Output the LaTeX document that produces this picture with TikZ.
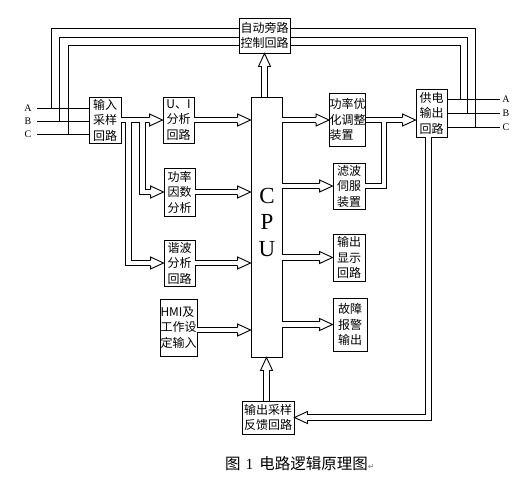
\documentclass[tikz,border=0pt]{standalone}
\usepackage{fontspec}
\setmainfont{Noto Sans CJK SC}
\newfontfamily\serifL{Liberation Serif}
\newfontfamily\symf{DejaVu Sans}
\usetikzlibrary{calc}
\tikzset{
  wire/.style={line width=0.9pt},
  box/.style={draw, line width=0.9pt, inner sep=0pt, align=center,
    font=\fontsize{12}{15.5}\selectfont},
  dblb/.style={draw, line width=0.9pt, double, double distance=4.6pt, line join=miter},
  dbl/.style={dblb, shorten >=13pt},
  ahead/.pic={
    \fill[white] (-13,-6) -- (0,0) -- (-13,6) -- cycle;
    \draw[line width=0.9pt, line join=miter] (-13,-2.75) -- (-13,-6) -- (0,0) -- (-13,6) -- (-13,2.75);
  },
  abc/.style={font=\serifL\fontsize{10}{10}\selectfont, inner sep=0pt}
}
\begin{document}
\begin{tikzpicture}[x=1pt,y=-1pt]
\useasboundingbox (0,0) rectangle (514,482);

% boxes
\node[box, minimum width=51pt, minimum height=35pt] (bp) at (264.5,35.5) {自动旁路\\控制回路};
\node[box, minimum width=32pt, minimum height=46pt] (in) at (105,120) {输入\\采样\\回路};
\node[box, minimum width=31pt, minimum height=46pt] (ui) at (178.5,120) {U、I\\分析\\回路};
\node[box, minimum width=31pt, minimum height=260pt] (cpu) at (266.5,227) {};
\node[font=\serifL\fontsize{23}{26.5}\selectfont, align=center, inner sep=0pt] (cputxt) at (267,222) {C\\P\\U};
\node[box, minimum width=31pt, minimum height=48pt] (pf) at (179.5,192) {功率\\因数\\分析};
\node[box, minimum width=31pt, minimum height=46pt] (hr) at (179.5,263) {谐波\\分析\\回路};
\node[box, minimum width=37pt, minimum height=57pt, align=left] (hmi) at (178.5,327.5) {HMI及\\工作设\\定输入};
\node[box, minimum width=35pt, minimum height=53pt, align=left] (po) at (347.5,119.5) {功率优\\化调整\\装置};
\node[box, minimum width=32pt, minimum height=46pt] (fl) at (349,186) {滤波\\伺服\\装置};
\node[box, minimum width=32pt, minimum height=47pt] (od) at (349,257.5) {输出\\显示\\回路};
\node[box, minimum width=34pt, minimum height=53pt] (ft) at (350,324.5) {故障\\报警\\输出};
\node[box, minimum width=31pt, minimum height=48pt] (sp) at (431.5,113) {供电\\输出\\回路};
\node[box, minimum width=52pt, minimum height=33pt] (fb) at (268,417.5) {输出采样\\反馈回路};

% phase labels
\node[abc] (lA) at (28,108) {A};
\node[abc] (lB) at (28,121) {B};
\node[abc] (lC) at (28,134) {C};
\node[abc] (rA) at (506,99) {A};
\node[abc] (rB) at (506,113) {B};
\node[abc] (rC) at (506,127) {C};

% input wires
\draw[wire] (37,108) -- (in.west |- 0,108);
\draw[wire] (37,121) -- (in.west |- 0,121);
\draw[wire] (37,134) -- (in.west |- 0,134);
% output wires
\draw[wire] (sp.east |- 0,99) -- (500,99);
\draw[wire] (sp.east |- 0,113) -- (500,113);
\draw[wire] (sp.east |- 0,127) -- (500,127);
% bypass wires
\coordinate (jA) at (51,108);
\coordinate (jB) at (59,121);
\coordinate (jC) at (68,134);
\draw[wire] (bp.west |- 0,28) -| (jA);
\draw[wire] (bp.west |- 0,37) -| (jB);
\draw[wire] (bp.west |- 0,45) -| (jC);
\coordinate (kA) at (460,99);
\coordinate (kB) at (467,113);
\coordinate (kC) at (475,127);
\draw[wire] (bp.east |- 0,28) -| (kC);
\draw[wire] (bp.east |- 0,37) -| (kB);
\draw[wire] (bp.east |- 0,45) -| (kA);

% double connectors
\draw[dbl] (in.east) -- (ui.west);
\draw[dbl] (142.5,122.3) |- (pf.west);
\draw[dbl] (128.5,122.3) |- (hr.west);
\draw[dbl] (ui.east) -- (ui.east -| cpu.west);
\draw[dbl] (pf.east) -- (pf.east -| cpu.west);
\draw[dbl] (hr.east) -- (hr.east -| cpu.west);
\draw[dbl] (hmi.east |- 0,330) -- (cpu.west |- 0,330);
\draw[dbl] (cpu.north -| bp.south) -- (bp.south);
\draw[dbl] (po.east |- 0,120) -- (sp.west |- 0,120);
\draw[dblb] (fl.east) -| (384,122.3);
\draw[dbl] (cpu.east |- 0,120) -- (po.west |- 0,120);
\draw[dbl] (fl.west -| cpu.east) -- (fl.west);
\draw[dbl] (od.west -| cpu.east) -- (od.west);
\draw[dbl] (ft.west -| cpu.east) -- (ft.west);
\draw[dbl] ([xshift=-3pt]sp.south) |- (fb.east);
\draw[dbl] (fb.north -| cpu.south) -- (cpu.south);

% arrow heads
\pic at (ui.west) {ahead};
\pic at (pf.west) {ahead};
\pic at (hr.west) {ahead};
\pic at (ui.east -| cpu.west) {ahead};
\pic at (pf.east -| cpu.west) {ahead};
\pic at (hr.east -| cpu.west) {ahead};
\pic at (cpu.west |- 0,330) {ahead};
\pic[rotate=90] at (bp.south) {ahead};
\pic at (sp.west |- 0,120) {ahead};
\pic at (po.west |- 0,120) {ahead};
\pic at (fl.west) {ahead};
\pic at (od.west) {ahead};
\pic at (ft.west) {ahead};
\pic[rotate=180] at (fb.east) {ahead};
\pic[rotate=90] at (cpu.south) {ahead};

% caption
\node[font=\fontsize{15.5}{15.5}\selectfont, inner sep=0pt, anchor=west] (cap) at (225,464) {图\hspace{5pt}{\serifL 1}\hspace{6pt}电路逻辑原理图{\symf\color{gray}\fontsize{8}{8}\selectfont ↵}};
\end{tikzpicture}
\end{document}
